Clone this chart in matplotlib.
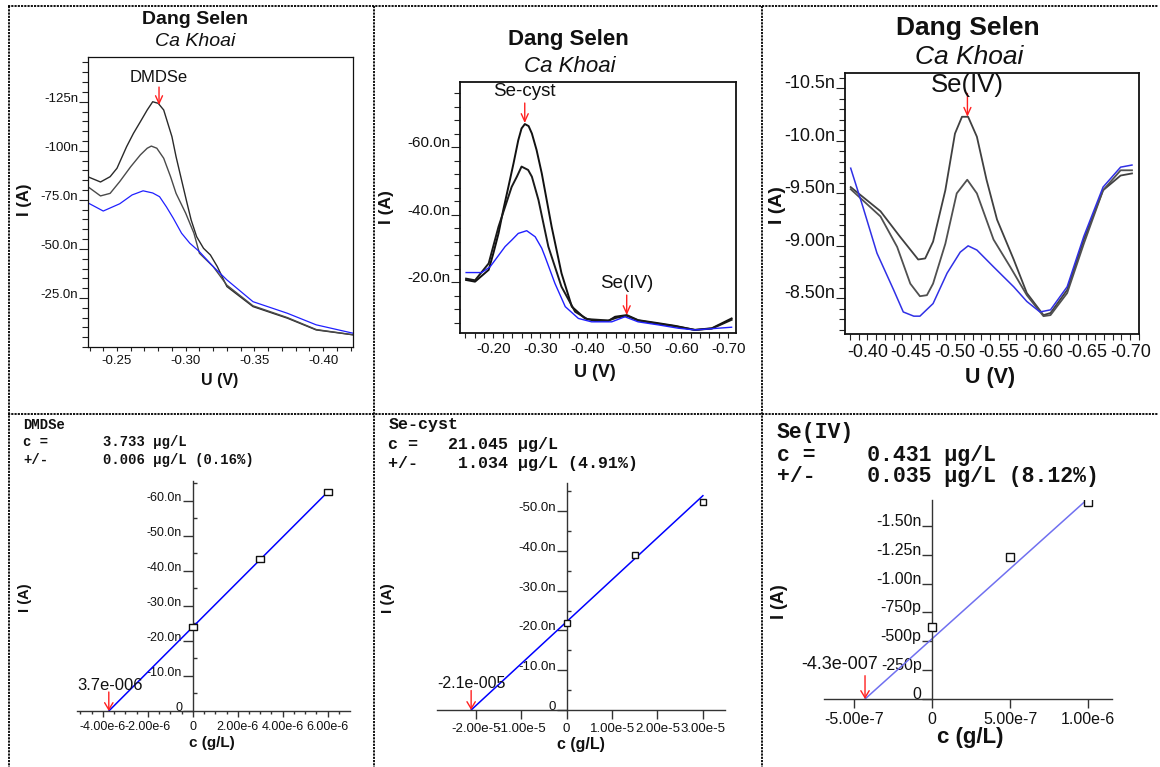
import numpy as np
import matplotlib
matplotlib.use('Agg')
import matplotlib.pyplot as plt
from matplotlib.ticker import MultipleLocator, FuncFormatter
from matplotlib.lines import Line2D

# ---------------- data ----------------
# top row: voltammograms, U in V, I in nA (three runs each: sample, +add 1, +add 2)
u1_top = [-0.229, -0.238, -0.245, -0.250, -0.257, -0.262, -0.267, -0.272, -0.276, -0.280, -0.284,
          -0.287, -0.290, -0.293, -0.297, -0.301, -0.304, -0.308, -0.313, -0.318, -0.323, -0.330,
          -0.349, -0.374, -0.395, -0.422]
i1_top = [-86.7, -84.1, -86.8, -91.1, -102.1, -108.9, -114.8, -120.8, -125.0, -124.2, -120.8,
          -114.0, -107.2, -97.0, -85.1, -73.3, -64.7, -56.2, -50.3, -46.9, -41.0, -30.8,
          -20.6, -14.7, -8.7, -6.2]
u1_mid = [-0.229, -0.238, -0.245, -0.252, -0.260, -0.267, -0.272, -0.275, -0.279, -0.284, -0.289,
          -0.293, -0.300, -0.306, -0.310, -0.320, -0.330, -0.349, -0.374, -0.395, -0.422]
i1_mid = [-81.6, -77.0, -78.3, -84.3, -91.9, -97.9, -101.3, -102.4, -101.3, -96.2, -86.8,
          -78.3, -68.2, -58.0, -47.8, -41.0, -31.5, -21.0, -15.0, -8.9, -6.2]
u1_blue = [-0.229, -0.240, -0.252, -0.261, -0.269, -0.276, -0.281, -0.286, -0.291, -0.297, -0.303,
           -0.310, -0.320, -0.330, -0.349, -0.374, -0.395, -0.422]
i1_blue = [-73.4, -69.3, -73.0, -77.5, -79.6, -78.5, -76.6, -71.4, -65.6, -58.0, -52.9,
           -48.6, -41.0, -34.2, -23.1, -17.2, -11.3, -7.0]

u2_top = [-0.142, -0.161, -0.190, -0.200, -0.211, -0.221, -0.232, -0.243, -0.253, -0.260, -0.267,
          -0.275, -0.282, -0.292, -0.303, -0.324, -0.345, -0.367, -0.395, -0.416, -0.445, -0.459,
          -0.484, -0.508, -0.551, -0.587, -0.629, -0.665, -0.707]
i2_top = [-20.6, -20.1, -23.6, -28.5, -34.4, -41.3, -48.2, -55.2, -62.0, -65.5, -66.8,
          -66.2, -64.0, -59.1, -52.2, -36.4, -22.6, -12.7, -9.2, -8.5, -8.5, -9.7,
          -10.2, -8.7, -7.8, -7.0, -5.8, -6.3, -9.2]
u2_mid = [-0.142, -0.161, -0.190, -0.211, -0.239, -0.250, -0.260, -0.274, -0.282, -0.296, -0.317,
          -0.345, -0.374, -0.400, -0.445, -0.462, -0.484, -0.508, -0.551, -0.587, -0.629, -0.665,
          -0.707]
i2_mid = [-21.0, -20.5, -25.5, -36.4, -48.2, -51.2, -54.2, -53.2, -51.2, -44.3, -30.5,
          -18.6, -11.2, -9.0, -8.6, -9.4, -10.0, -8.6, -7.6, -6.9, -5.8, -6.2, -8.8]
u2_blue = [-0.142, -0.175, -0.193, -0.225, -0.239, -0.253, -0.271, -0.289, -0.303, -0.310, -0.331,
           -0.353, -0.381, -0.409, -0.452, -0.480, -0.508, -0.551, -0.594, -0.629, -0.707]
i2_blue = [-22.8, -22.8, -24.5, -30.5, -32.4, -34.4, -35.2, -33.4, -30.0, -27.5, -19.6,
           -12.7, -9.2, -8.2, -8.2, -9.7, -8.2, -7.3, -6.3, -5.8, -6.6]

u3_top = [-0.381, -0.415, -0.437, -0.458, -0.466, -0.475, -0.489, -0.500, -0.508, -0.515, -0.525,
          -0.536, -0.548, -0.567, -0.582, -0.601, -0.609, -0.628, -0.647, -0.669, -0.689, -0.702]
i3_top = [-9.56, -9.33, -9.09, -8.87, -8.88, -9.04, -9.53, -10.07, -10.23, -10.23, -10.04,
          -9.63, -9.25, -8.87, -8.55, -8.34, -8.36, -8.58, -9.06, -9.53, -9.67, -9.69]
u3_mid = [-0.381, -0.415, -0.434, -0.449, -0.460, -0.468, -0.475, -0.489, -0.502, -0.514, -0.525,
          -0.544, -0.563, -0.582, -0.601, -0.609, -0.628, -0.647, -0.669, -0.689, -0.702]
i3_mid = [-9.54, -9.28, -8.99, -8.64, -8.52, -8.53, -8.64, -9.02, -9.50, -9.63, -9.50,
          -9.06, -8.80, -8.53, -8.33, -8.34, -8.55, -9.02, -9.53, -9.72, -9.72]
u3_blue = [-0.381, -0.395, -0.411, -0.430, -0.441, -0.453, -0.460, -0.475, -0.491, -0.506, -0.515,
           -0.525, -0.544, -0.567, -0.582, -0.597, -0.609, -0.628, -0.647, -0.669, -0.689, -0.702]
i3_blue = [-9.74, -9.37, -8.93, -8.58, -8.37, -8.33, -8.33, -8.45, -8.74, -8.94, -9.00,
           -8.96, -8.80, -8.61, -8.47, -8.37, -8.39, -8.61, -9.09, -9.56, -9.75, -9.77]

# peak markers (label, U, I)
peaks1 = [('DMDSe', -0.2806, -123.3)]
peaks2 = [('Se-cyst', -0.2668, -67.1), ('Se(IV)', -0.4838, -10.2)]
peaks3 = [('Se(IV)', -0.5142, -10.23)]

# tick values
yt1 = [-125, -100, -75, -50, -25]
xt1 = [-0.25, -0.30, -0.35, -0.40]
yt2 = [-60, -40, -20]
xt2 = [-0.20, -0.30, -0.40, -0.50, -0.60, -0.70]
yt3 = [-10.5, -10.0, -9.5, -9.0, -8.5]
xt3 = [-0.40, -0.45, -0.50, -0.55, -0.60, -0.65, -0.70]

# bottom row: standard addition, c in g/L, I in nA
conc4 = [0, 3e-6, 6e-6]
cur4 = [-24.1, -43.4, -62.7]
conc5 = [0, 1.5e-5, 3e-5]
cur5 = [-21.9, -39.0, -52.3]
conc6 = [0, 5e-7, 1e-6]
cur6 = [-0.623, -1.233, -1.709]

# results (ug/L) and fitted current at c = 0 (nA)
res4, err4, pct4, i0_4 = 3.733, 0.006, 0.16, -24.0
res5, err5, pct5, i0_5 = 21.045, 1.034, 4.91, -22.2
res6, err6, pct6, i0_6 = 0.431, 0.035, 8.12, -0.523
lab4, lab5, lab6 = '3.7e-006', '-2.1e-005', '-4.3e-007'

xt4 = [-4e-6, -2e-6, 0, 2e-6, 4e-6, 6e-6]
yt4 = [-60, -50, -40, -30, -20, -10, 0]
xt5 = [-2e-5, -1e-5, 0, 1e-5, 2e-5, 3e-5]
yt5 = [-50, -40, -30, -20, -10, 0]
xt6 = [-5e-7, 0, 5e-7, 1e-6]
yt6 = [-1.5, -1.25, -1.0, -0.75, -0.5, -0.25, 0]

# ---------------- figure ----------------
W, H = 1160, 767
plt.rcParams['font.family'] = ['Liberation Sans', 'DejaVu Sans']
fig = plt.figure(figsize=(W / 100, H / 100), dpi=100)

TXT = '#111111'
RED = '#ff2020'
PX = 0.72  # points per pixel


def add_ax(left, top, right, bottom):
    return fig.add_axes([left / W, 1 - bottom / H, (right - left) / W, (bottom - top) / H])


def ftext(x, y, s, **kw):
    kw.setdefault('ha', 'center')
    kw.setdefault('va', 'center')
    kw.setdefault('color', TXT)
    fig.text(x / W, 1 - y / H, s, **kw)


def fmt_amp(v, pos=None):
    if v == 0:
        return '0'
    if abs(v) < 1:
        return f'{v * 1000:#.3g}'.rstrip('.') + 'p'
    return f'{v:#.3g}'.rstrip('.') + 'n'


def fmt_sci(v, pos=None):
    if v == 0:
        return '0'
    e = int(np.floor(np.log10(abs(v)) + 1e-9))
    return f'{v / 10 ** e:.2f}e{e}'


def lift_ylabels(ax):
    for t in ax.yaxis.get_major_ticks():
        t.label1.set_va('baseline')


def mark_peak(ax, label, u, i, tail, txt, fs, dx=0):
    ax.annotate('', xy=(u, i), xytext=(0, tail * PX), textcoords='offset points',
                arrowprops=dict(arrowstyle='->,head_width=0.25,head_length=0.55',
                                color=RED, lw=1, shrinkA=0, shrinkB=0))
    ax.annotate(label, xy=(u, i), xytext=(dx * PX, txt * PX), textcoords='offset points',
                ha='center', va='center', fontsize=fs, color=TXT)


def volt_axes(box, xlim, ylim, xt, xminor, yt, yminor, fs, xlen, spine_w):
    ax = add_ax(*box)
    ax.set_xlim(*xlim)
    ax.set_ylim(*ylim)
    ax.set_xticks(xt)
    ax.set_yticks(yt)
    ax.xaxis.set_minor_locator(MultipleLocator(xminor))
    ax.yaxis.set_minor_locator(MultipleLocator(yminor))
    ax.xaxis.set_major_formatter(FuncFormatter(lambda v, p: f'{v:.2f}'))
    ax.yaxis.set_major_formatter(FuncFormatter(fmt_amp))
    ax.tick_params(axis='x', which='both', direction='out', length=xlen * PX, width=0.8,
                   color='#222222', pad=3, labelsize=fs, labelcolor=TXT)
    ax.tick_params(axis='y', which='major', direction='out', length=9 * PX, width=0.8,
                   color='#222222', pad=0.5, labelsize=fs, labelcolor=TXT)
    ax.tick_params(axis='y', which='minor', direction='out', length=6 * PX, width=0.8,
                   color='#222222')
    for s in ax.spines.values():
        s.set_linewidth(spine_w)
        s.set_color('#111111')
    lift_ylabels(ax)
    return ax


# ---- panel 1 ----
ax1 = volt_axes((88, 57, 353, 347), (-0.2289, -0.4218), (0, -147.8), xt1, 0.01,
                yt1, 5, 9.5, 4, 0.9)
ax1.plot(u1_top, i1_top, color='#2a2a2a', lw=1.0)
ax1.plot(u1_mid, i1_mid, color='#4a4a4a', lw=1.0)
ax1.plot(u1_blue, i1_blue, color='#2020ff', lw=0.9)
for lab, u, i in peaks1:
    mark_peak(ax1, lab, u, i, 18, 28, 12)
ftext(195, 19, 'Dang Selen', fontsize=14, fontweight='bold')
ftext(195, 42, 'Ca Khoai', fontsize=14, fontstyle='italic')
ftext(220, 380, 'U (V)', fontsize=11.5, fontweight='bold')
ftext(25, 200, 'I (A)', fontsize=12, fontweight='bold', rotation=90)

# ---- panel 2 ----
ax2 = volt_axes((460, 82, 736, 333), (-0.129, -0.7164), (-4.89, -79.26), xt2, 0.02,
                yt2, 4, 11, 5, 1.3)
ax2.plot(u2_top, i2_top, color='#111111', lw=1.4)
ax2.plot(u2_mid, i2_mid, color='#1a1a1a', lw=1.4)
ax2.plot(u2_blue, i2_blue, color='#2020ff', lw=1.0)
for lab, u, i in peaks2:
    mark_peak(ax2, lab, u, i, 20, 31.5, 13.5)
ftext(568, 40, 'Dang Selen', fontsize=16, fontweight='bold')
ftext(570, 67, 'Ca Khoai', fontsize=16, fontstyle='italic')
ftext(595, 372, 'U (V)', fontsize=13, fontweight='bold')
ftext(387, 207, 'I (A)', fontsize=12.5, fontweight='bold', rotation=90)

# ---- panel 3 ----
ax3 = volt_axes((845, 72.7, 1139, 334), (-0.3745, -0.710), (-8.16, -10.65), xt3, 0.01,
                yt3, 0.1, 13, 6, 1.3)
ax3.plot(u3_top, i3_top, color='#404040', lw=1.3)
ax3.plot(u3_mid, i3_mid, color='#505050', lw=1.3)
ax3.plot(u3_blue, i3_blue, color='#3030e6', lw=1.1)
for lab, u, i in peaks3:
    mark_peak(ax3, lab, u, i, 23.4, 31.7, 18.5)
ftext(968, 28, 'Dang Selen', fontsize=19, fontweight='bold')
ftext(969, 57, 'Ca Khoai', fontsize=19, fontstyle='italic')
ftext(990, 377, 'U (V)', fontsize=15.5, fontweight='bold')
ftext(777, 205, 'I (A)', fontsize=14, fontweight='bold', rotation=90)


# ---------------- bottom row ----------------
def calib_axes(box, xlim, ylim, xt, yt, fs, xlen, yminor=None, xminor=None):
    ax = add_ax(*box)
    ax.patch.set_alpha(0)
    ax.set_xlim(*xlim)
    ax.set_ylim(*ylim)
    ax.spines['left'].set_position(('data', 0))
    ax.spines['bottom'].set_position(('data', 0))
    ax.spines['top'].set_visible(False)
    ax.spines['right'].set_visible(False)
    for s in ('left', 'bottom'):
        ax.spines[s].set_color('#333333')
        ax.spines[s].set_linewidth(1.0)
    ax.set_xticks(xt)
    ax.set_yticks(yt)
    ax.xaxis.set_major_formatter(FuncFormatter(fmt_sci))
    ax.yaxis.set_major_formatter(FuncFormatter(fmt_amp))
    ax.tick_params(axis='x', which='major', direction='out', length=xlen * PX, width=1,
                   color='#333333', pad=3, labelsize=fs, labelcolor=TXT)
    ax.tick_params(axis='y', which='major', direction='out', length=10 * PX, width=1,
                   color='#333333', pad=0.5, labelsize=fs, labelcolor=TXT)
    if yminor:
        ax.yaxis.set_minor_locator(MultipleLocator(yminor))
        ax.tick_params(axis='y', which='minor', direction='in', length=4 * PX, width=1,
                       color='#333333')
    if xminor:
        ax.xaxis.set_minor_locator(MultipleLocator(xminor))
        ax.tick_params(axis='x', which='minor', direction='out', length=3 * PX, width=1,
                       color='#333333')
    lift_ylabels(ax)
    return ax


def calib_line(ax, conc, res, i0, color, lw):
    c_s = res * 1e-6
    xl = np.array([-c_s, max(conc)])
    ax.plot(xl, i0 * (1 + xl / c_s), color=color, lw=lw, zorder=2)
    return -c_s


def mark_root(ax, label, x0, tail, txt, fs, dx=0):
    ax.annotate('', xy=(x0, 0), xytext=(0, tail * PX), textcoords='offset points',
                arrowprops=dict(arrowstyle='->,head_width=0.3,head_length=0.5',
                                color=RED, lw=1, shrinkA=0, shrinkB=0))
    ax.annotate(label, xy=(x0, 0), xytext=(dx * PX, txt * PX), textcoords='offset points',
                ha='center', va='center', fontsize=fs, color=TXT)


mono = ['Liberation Mono', 'DejaVu Sans Mono']

# ---- panel 4 ----
ax4 = calib_axes((76.7, 481, 350, 711), (-5.16e-6, 6.99e-6), (0, -65.7), xt4, yt4, 9, 6,
                 yminor=5, xminor=5e-7)
x0 = calib_line(ax4, conc4, res4, i0_4, '#0000ff', 1.1)
rect = [(-1, -0.6), (1, -0.6), (1, 0.6), (-1, 0.6), (-1, -0.6)]
ax4.plot(conc4, cur4, ls='none', marker=rect, ms=6.2, mfc='white', mec='#111111',
         mew=1, zorder=3)
mark_root(ax4, lab4, x0, 19, 25.3, 12, dx=1.7)
ftext(23.3, 425, 'DMDSe', ha='left', fontsize=10, fontweight='bold', family=mono)
ftext(23.3, 442.3, 'c =', ha='left', fontsize=10, fontweight='bold', family=mono)
ftext(23.3, 460, '+/-', ha='left', fontsize=10, fontweight='bold', family=mono)
ftext(102.7, 442.3, f'{res4:.3f} µg/L', ha='left', fontsize=10, fontweight='bold', family=mono)
ftext(102.7, 460, f'{err4:.3f} µg/L ({pct4:.2f}%)', ha='left', fontsize=10,
      fontweight='bold', family=mono)
ftext(212, 743, 'c (g/L)', fontsize=11, fontweight='bold')
ftext(25, 598, 'I (A)', fontsize=10.5, fontweight='bold', rotation=90)

# ---- panel 5 ----
ax5 = calib_axes((436.7, 483.3, 725, 710), (-2.863e-5, 3.487e-5), (0, -56.96), xt5, yt5,
                 9.5, 9, yminor=5)
x0 = calib_line(ax5, conc5, res5, i0_5, '#0000ff', 1.1)
ax5.plot(conc5, cur5, ls='none', marker='s', ms=4.6, mfc='white', mec='#111111',
         mew=1, zorder=3)
mark_root(ax5, lab5, x0, 19.5, 27, 11.5)
ftext(388.3, 425, 'Se-cyst', ha='left', fontsize=12, fontweight='bold', family=mono)
ftext(388.3, 444.3, f'c =   {res5:.3f} µg/L', ha='left', fontsize=12, fontweight='bold',
      family=mono)
ftext(388.3, 463.3, f'+/-    {err5:.3f} µg/L ({pct5:.2f}%)', ha='left', fontsize=12,
      fontweight='bold', family=mono)
ftext(581, 745, 'c (g/L)', fontsize=11.5, fontweight='bold')
ftext(388, 598, 'I (A)', fontsize=11, fontweight='bold', rotation=90)

# ---- panel 6 ----
ax6 = calib_axes((824.3, 500, 1112.3, 699), (-6.92e-7, 1.154e-6), (0, -1.723), xt6, yt6,
                 11.5, 9)
x0 = calib_line(ax6, conc6, res6, i0_6, '#7070f0', 1.1)
ax6.plot(conc6, cur6, ls='none', marker='s', ms=5.8, mfc='white', mec='#111111',
         mew=1, zorder=3)
mark_root(ax6, lab6, x0, 23.3, 34.7, 13, dx=-25)
ftext(776.7, 432.3, 'Se(IV)', ha='left', fontsize=15.5, fontweight='bold', family=mono)
ftext(776.7, 455, f'c =    {res6:.3f} µg/L', ha='left', fontsize=15.5, fontweight='bold',
      family=mono)
ftext(776.7, 476.7, f'+/-    {err6:.3f} µg/L ({pct6:.2f}%)', ha='left', fontsize=15.5,
      fontweight='bold', family=mono)
ftext(970, 737, 'c (g/L)', fontsize=16, fontweight='bold')
ftext(780, 602, 'I (A)', fontsize=13, fontweight='bold', rotation=90)

# ---------------- dotted table frame ----------------
frame = [((8, 6), (1158, 6)), ((8, 414.3), (1158, 414.3)),
         ((9, 6), (9, 767)), ((374.3, 6), (374.3, 767)), ((762, 6), (762, 767))]
for (xa, ya), (xb, yb) in frame:
    fig.add_artist(Line2D([xa / W, xb / W], [1 - ya / H, 1 - yb / H], transform=fig.transFigure,
                          color='black', lw=1.3, linestyle=(0, (1.2, 0.6))))

fig.savefig('out.png', dpi=100)
